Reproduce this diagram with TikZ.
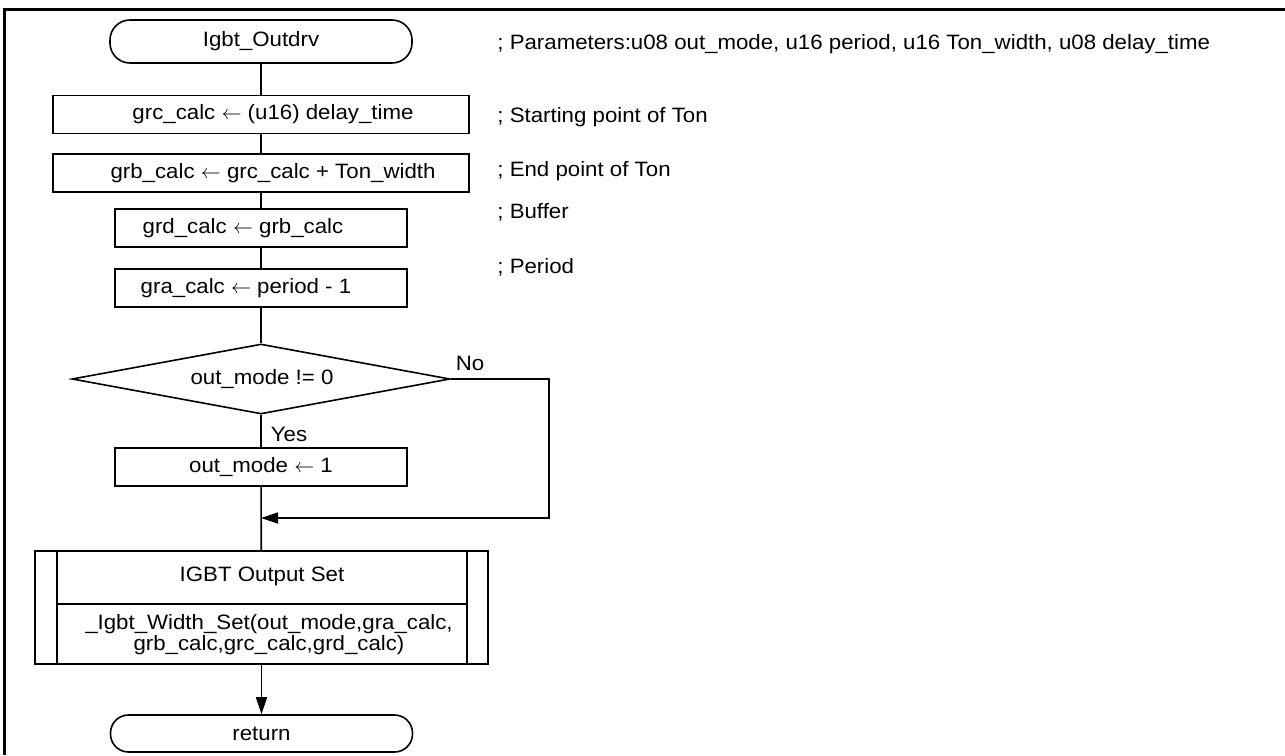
\documentclass[tikz,border=0pt]{standalone}
\usepackage{fontspec}
\setmainfont{Liberation Sans}[FakeStretch=1.07]
\usetikzlibrary{arrows.meta,shapes.geometric}
% assignment arrow used in the process boxes
\newcommand{\asg}{\ensuremath{\leftarrow}}

\begin{document}
\begin{tikzpicture}[x=0.5pt,y=-0.5pt,
  every node/.style={font=\fontsize{10.4pt}{12pt}\selectfont},
  shape line/.style={draw,line width=0.8pt},
  terminal/.style={shape line,rectangle,rounded corners=10pt,minimum width=151pt,minimum height=21.5pt,inner sep=0pt},
  procbox/.style={shape line,rectangle,minimum height=19pt,inner sep=0pt},
  decision/.style={shape line,diamond,aspect=5.4,minimum width=189pt,minimum height=35pt,inner sep=0pt},
  txt/.style={inner sep=0pt},
  comment/.style={inner sep=0pt,anchor=west},
  flow/.style={line width=0.8pt},
  flowarrow/.style={flow,-{Triangle[length=8.5pt,width=5.5pt]}}]

\useasboundingbox (0,0) rectangle (1285,755);

% page frame (left and top rules)
\draw[line width=1.5pt] (4.5,755) -- (4.5,9) -- (1285,9);

% flow chart shapes
\node[terminal] (start) at (261,41.5) {Igbt\_Outdrv};
\node[procbox,minimum width=208pt] (b1) at (261,114.5) {};
\node[txt] (b1t) at (273,114.5) {grc\_calc \asg{} (u16) delay\_time};
\node[procbox,minimum width=208pt] (b2) at (261,173) {};
\node[txt] (b2t) at (273,173) {grb\_calc \asg{} grc\_calc + Ton\_width};
\node[procbox,minimum width=146pt] (b3) at (261,228) {};
\node[txt] (b3t) at (243,228) {grd\_calc \asg{} grb\_calc};
\node[procbox,minimum width=146pt] (b4) at (261,288) {};
\node[txt] (b4t) at (246,288) {gra\_calc \asg{} period - 1};
\node[decision] (dec) at (261,379) {};
\node[txt] (dect) at (262,379) {out\_mode != 0};
\node[procbox,minimum width=146pt] (setm) at (261,467) {out\_mode \asg{} 1};
\coordinate (j) at (261,518);

% predefined process box
\node[shape line,rectangle,minimum width=226.5pt,minimum height=56.5pt,inner sep=0pt] (ops) at (261.5,607.5) {};
\draw[flow] ([xshift=11.5pt]ops.north west) -- ([xshift=11.5pt]ops.south west);
\draw[flow] ([xshift=-11pt]ops.north east) -- ([xshift=-11pt]ops.south east);
\draw[flow] ([xshift=11.5pt,yshift=-27pt]ops.north west) -- ([xshift=-11pt,yshift=-27pt]ops.north east);
\node[txt] (opst) at (262,576) {IGBT Output Set};
\node[txt,align=center,font=\fontsize{10.4pt}{10.8pt}\selectfont] (opsf) at (269,634.5) {\_Igbt\_Width\_Set(out\_mode,gra\_calc,\\grb\_calc,grc\_calc,grd\_calc)};

\node[terminal,minimum height=18.5pt,rounded corners=9pt] (ret) at (261.5,733.5) {return};

% connectors
\draw[flow] (start) -- (b1);
\draw[flow] (b1) -- (b2);
\draw[flow] (b2) -- (b3);
\draw[flow] (b3) -- (b4);
\draw[flow] (b4) -- (dec);
\draw[flow] (dec) -- (setm);
\draw[flow] (setm) -- (ops);
\draw[flowarrow] (dec.east) -- ++(98,0) |- (j);
\draw[flowarrow] (ops) -- (ret);

% branch labels
\node[txt] (no) at (470,363) {No};
\node[txt] (yes) at (289,434) {Yes};

% comments
\node[comment] (c0) at (497,44) {; Parameters:u08 out\_mode, u16 period, u16 Ton\_width, u08 delay\_time};
\node[comment] (c1) at (497,117) {; Starting point of Ton};
\node[comment] (c2) at (497,171) {; End point of Ton};
\node[comment] (c3) at (497,212) {; Buffer};
\node[comment] (c4) at (497,267) {; Period};
\end{tikzpicture}
\end{document}
